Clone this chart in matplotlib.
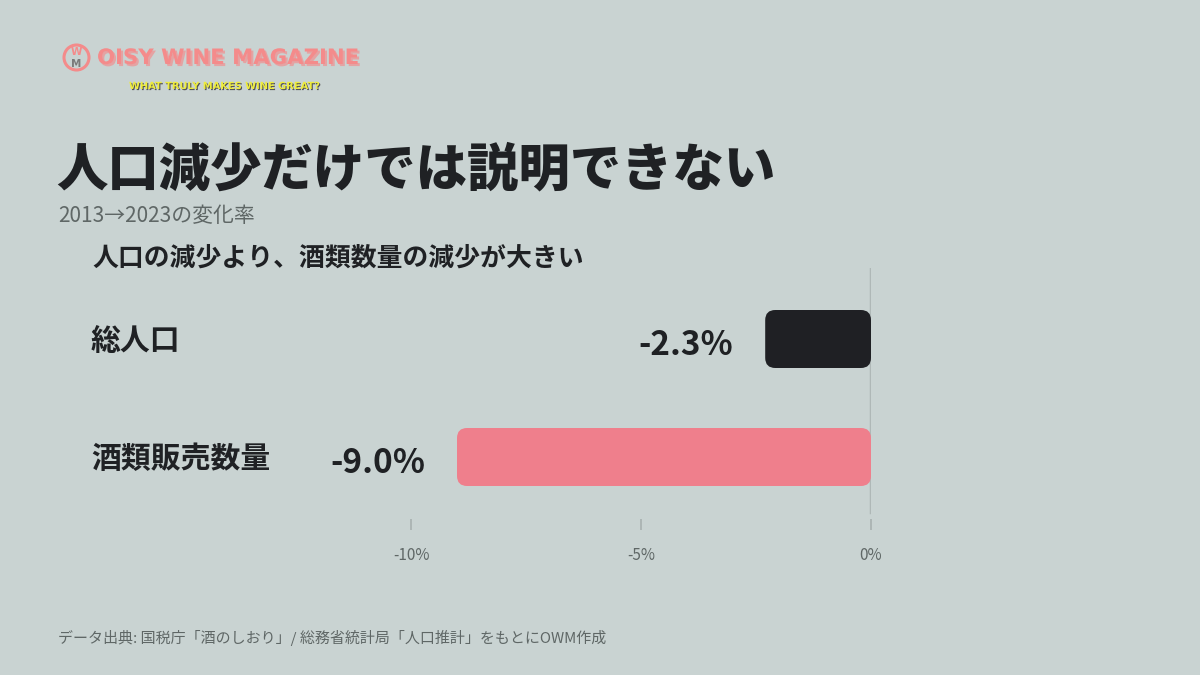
import matplotlib
matplotlib.use('Agg')
import matplotlib.pyplot as plt
from matplotlib.patches import FancyBboxPatch, Ellipse
import matplotlib.patheffects as pe
from matplotlib.transforms import blended_transform_factory

# ---- data ----
categories = ['総人口', '酒類販売数量']
values = [-2.3, -9.0]
value_labels = ['-2.3%', '-9.0%']
bar_colors = ['#1f2024', '#ef7f8c']
xticks = [-10, -5, 0]
xtick_labels = ['-10%', '-5%', '0%']

title = '人口減少だけでは説明できない'
subtitle = '2013→2023の変化率'
subheading = '人口の減少より、酒類数量の減少が大きい'
source = 'データ出典: 国税庁「酒のしおり」/ 総務省統計局「人口推計」をもとにOWM作成'
logo_text = 'OISY WINE MAGAZINE'
tagline = 'WHAT TRULY MAKES WINE GREAT?'

BG = '#c9d3d2'
DARK = '#1f2124'
GRAY = '#5f6766'
plt.rcParams['font.family'] = ['Noto Sans CJK JP', 'DejaVu Sans']

W, H = 1200, 675
fig = plt.figure(figsize=(12, 6.75), dpi=100, facecolor=BG)

def fx(px):
    return px / W

def fy(py):
    return 1 - py / H

# ---- axes ----
ax = fig.add_axes([fx(411), fy(530), (871 - 411) / W, (530 - 268) / H])
ax.set_facecolor('none')
ax.set_xlim(-10, 0)
ax.set_ylim(1 + (530 - 457) / 118, -(339 - 268) / 118)
for s in ax.spines.values():
    s.set_visible(False)
ax.set_yticks([])
ax.set_xticks(xticks, xtick_labels)
ax.tick_params(axis='x', direction='in', length=8, width=1.3, color='#aab3b2',
               labelsize=11, labelcolor=GRAY, pad=12)

ax.axvline(0, ymin=18 / 262, ymax=1, color='#afb8b7', lw=2.5, zorder=1)

bar_h = 58 / 118
for i, (v, c) in enumerate(zip(values, bar_colors)):
    p = FancyBboxPatch((v, i - bar_h / 2), -v, bar_h,
                       boxstyle='round,pad=0,rounding_size=0.22',
                       mutation_aspect=46 / 118, fc=c, ec='none', zorder=3)
    ax.add_patch(p)
    ax.annotate(value_labels[i], xy=(v, i), xytext=(-23, -5), textcoords='offset points',
                ha='right', va='center', fontsize=24, fontweight='bold', color=DARK)

trans = blended_transform_factory(fig.transFigure, ax.transData)
for i, cat in enumerate(categories):
    ax.text(fx(91), i + 0.02, cat, transform=trans, ha='left', va='center',
            fontsize=21.5, fontweight='bold', color=DARK)

# ---- titles ----
fig.text(fx(56), fy(170), title, fontsize=37, fontweight='black', color=DARK, va='center')
fig.text(fx(58), fy(216), subtitle, fontsize=15, color=GRAY, va='center')
fig.text(fx(92), fy(258), subheading, fontsize=18.6, fontweight='bold', color=DARK, va='center')
fig.text(fx(58), fy(638), source, fontsize=10.8, color=GRAY, va='center')

# ---- logo ----
PINK = '#f48b8b'
icon = Ellipse((fx(76.5), fy(57.5)), 25 / W, 25 / H, transform=fig.transFigure,
               fc='none', ec=PINK, lw=2.2)
fig.patches.append(icon)
fig.text(fx(76.5), fy(52), 'W', fontsize=7.5, fontweight='bold', color=PINK,
         ha='center', va='center', family=['DejaVu Sans'])
fig.text(fx(76.5), fy(64), 'M', fontsize=7.5, fontweight='bold', color='#7a7a7a',
         ha='center', va='center', family=['DejaVu Sans'])
fig.text(fx(97), fy(58), logo_text, fontsize=15.3, fontweight='bold', color=PINK,
         ha='left', va='center', family=['DejaVu Sans'],
         path_effects=[pe.SimplePatchShadow(offset=(1.5, -1.5), shadow_rgbFace='#e4a3a3', alpha=1),
                       pe.Normal()])
fig.text(fx(129), fy(86), tagline, fontsize=7.1, fontweight='bold', color='#eeec3c',
         ha='left', va='center', family=['DejaVu Sans'],
         path_effects=[pe.SimplePatchShadow(offset=(0.8, -0.8), shadow_rgbFace='#555555', alpha=1),
                       pe.Normal()])

fig.savefig('out.png', dpi=100, facecolor=BG)
